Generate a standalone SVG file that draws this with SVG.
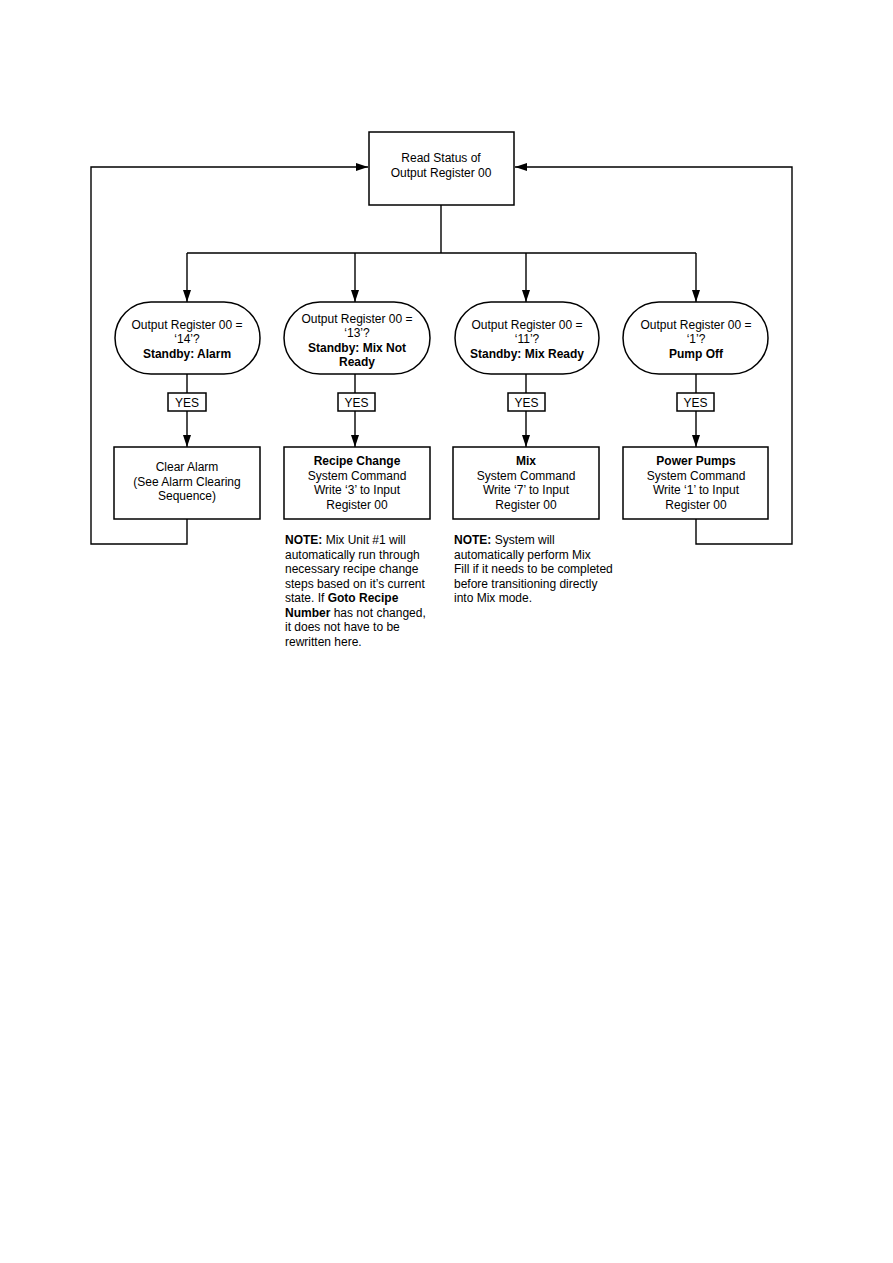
<svg xmlns="http://www.w3.org/2000/svg" width="893" height="1263" viewBox="0 0 893 1263">
<style>
.box{fill:#fff;stroke:#000;stroke-width:1.5}
.ln{fill:none;stroke:#000;stroke-width:1.4}
text{font-family:"Liberation Sans",Arial,sans-serif;font-size:12px;fill:#000}
.c{text-anchor:middle}
.b{font-weight:bold}
</style>
<defs>
<marker id="ah" markerWidth="12" markerHeight="8" refX="12" refY="4" orient="auto" markerUnits="userSpaceOnUse">
<path d="M0,0 L12,4 L0,8 Z" fill="#000"/>
</marker>
</defs>
<rect width="893" height="1263" fill="#fff"/>
<g id="connectors">
<path class="ln" d="M441,205 V253 M187,253 H696"/>
<path class="ln" d="M187,253 V302" marker-end="url(#ah)"/>
<path class="ln" d="M355,253 V302" marker-end="url(#ah)"/>
<path class="ln" d="M526,253 V302" marker-end="url(#ah)"/>
<path class="ln" d="M696,253 V302" marker-end="url(#ah)"/>
<path class="ln" d="M187,374 V393"/>
<path class="ln" d="M355,374 V393"/>
<path class="ln" d="M526,374 V393"/>
<path class="ln" d="M696,374 V393"/>
<path class="ln" d="M187,411 V447" marker-end="url(#ah)"/>
<path class="ln" d="M355,411 V447" marker-end="url(#ah)"/>
<path class="ln" d="M526,411 V447" marker-end="url(#ah)"/>
<path class="ln" d="M696,411 V447" marker-end="url(#ah)"/>
<path class="ln" d="M187,519 V544 H91 V167 H368" marker-end="url(#ah)"/>
<path class="ln" d="M696,519 V544 H792 V167 H515" marker-end="url(#ah)"/>
</g>
<g id="read-status">
<rect class="box" x="369" y="132" width="145" height="73"/>
<text class="c" x="441" y="162">Read Status of</text>
<text class="c" x="441" y="177">Output Register 00</text>
</g>
<g id="dec-14">
<rect class="box" x="115" y="302" width="145" height="72" rx="36" ry="36"/>
<text class="c" x="187" y="329">Output Register 00 =</text>
<text class="c" x="187" y="343">‘14’?</text>
<text class="c b" x="187" y="358">Standby: Alarm</text>
</g>
<g id="dec-13">
<rect class="box" x="284" y="302" width="146" height="72" rx="36" ry="36"/>
<text class="c" x="357" y="323">Output Register 00 =</text>
<text class="c" x="357" y="337">‘13’?</text>
<text class="c b" x="357" y="352">Standby: Mix Not</text>
<text class="c b" x="357" y="366">Ready</text>
</g>
<g id="dec-11">
<rect class="box" x="455" y="302" width="144" height="72" rx="36" ry="36"/>
<text class="c" x="527" y="329">Output Register 00 =</text>
<text class="c" x="527" y="343">‘11’?</text>
<text class="c b" x="527" y="358">Standby: Mix Ready</text>
</g>
<g id="dec-1">
<rect class="box" x="623" y="302" width="145" height="72" rx="36" ry="36"/>
<text class="c" x="696" y="329">Output Register 00 =</text>
<text class="c" x="696" y="343">‘1’?</text>
<text class="c b" x="696" y="358">Pump Off</text>
</g>
<g id="yes-1"><rect class="box" x="168" y="393" width="38" height="18"/><text class="c" x="187" y="406.5">YES</text></g>
<g id="yes-2"><rect class="box" x="338" y="393" width="37" height="18"/><text class="c" x="356.5" y="406.5">YES</text></g>
<g id="yes-3"><rect class="box" x="508" y="393" width="37" height="18"/><text class="c" x="526.5" y="406.5">YES</text></g>
<g id="yes-4"><rect class="box" x="677" y="393" width="37" height="18"/><text class="c" x="695.5" y="406.5">YES</text></g>
<g id="clear-alarm">
<rect class="box" x="114" y="447" width="146" height="72"/>
<text class="c" x="187" y="471">Clear Alarm</text>
<text class="c" x="187" y="486">(See Alarm Clearing</text>
<text class="c" x="187" y="500">Sequence)</text>
</g>
<g id="recipe-change">
<rect class="box" x="284" y="447" width="146" height="72"/>
<text class="c b" x="357" y="465">Recipe Change</text>
<text class="c" x="357" y="480">System Command</text>
<text class="c" x="357" y="494">Write ‘3’ to Input</text>
<text class="c" x="357" y="509">Register 00</text>
</g>
<g id="mix">
<rect class="box" x="453" y="447" width="146" height="72"/>
<text class="c b" x="526" y="465">Mix</text>
<text class="c" x="526" y="480">System Command</text>
<text class="c" x="526" y="494">Write ‘7’ to Input</text>
<text class="c" x="526" y="509">Register 00</text>
</g>
<g id="power-pumps">
<rect class="box" x="623" y="447" width="145" height="72"/>
<text class="c b" x="696" y="465">Power Pumps</text>
<text class="c" x="696" y="480">System Command</text>
<text class="c" x="696" y="494">Write ‘1’ to Input</text>
<text class="c" x="696" y="509">Register 00</text>
</g>
<g id="note-1">
<text x="285" y="544"><tspan class="b">NOTE:</tspan> Mix Unit #1 will</text>
<text x="285" y="558.5">automatically run through</text>
<text x="285" y="573">necessary recipe change</text>
<text x="285" y="587.5">steps based on it’s current</text>
<text x="285" y="602">state. If <tspan class="b">Goto Recipe</tspan></text>
<text x="285" y="616.5"><tspan class="b">Number</tspan> has not changed,</text>
<text x="285" y="631">it does not have to be</text>
<text x="285" y="645.5">rewritten here.</text>
</g>
<g id="note-2">
<text x="454" y="544"><tspan class="b">NOTE:</tspan> System will</text>
<text x="454" y="558.5">automatically perform Mix</text>
<text x="454" y="573">Fill if it needs to be completed</text>
<text x="454" y="587.5">before transitioning directly</text>
<text x="454" y="602">into Mix mode.</text>
</g>
</svg>
